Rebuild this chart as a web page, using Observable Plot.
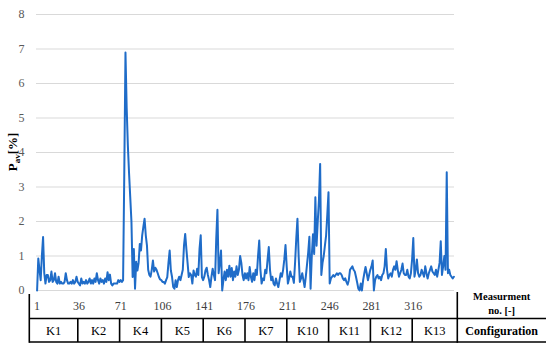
<!DOCTYPE html>
<html><head><meta charset="utf-8">
<script src="https://cdn.jsdelivr.net/npm/d3@7"></script>
<script src="https://cdn.jsdelivr.net/npm/@observablehq/plot@0.6"></script>
<style>html,body{margin:0;padding:0;background:#fff}</style>
</head><body><div id="chart"></div>
<script>
// ---- data ----
const configurations = ["K1","K2","K4","K5","K6","K7","K10","K11","K12","K13"];
const configStarts = [1,36,71,106,141,176,211,246,281,316];
const measurementTicks = [1,36,71,106,141,176,211,246,281,316];
const yTicks = [0,1,2,3,4,5,6,7,8];

const k1 = [0,0.93,0.6,0.3,1.0, 1.55,0.5,0.2,0.45,0.45, 0.25,0.3,0.55,0.25,0.3, 0.5,0.25,0.2,0.4,0.2, 0.25,0.2,0.2,0.25,0.5, 0.3,0.2,0.2,0.25,0.2, 0.3,0.2,0.25,0.4,0.25];
const k2 = [0.2,0.15,0.35,0.2,0.25, 0.2,0.3,0.2,0.25,0.35, 0.2,0.3,0.2,0.35,0.25, 0.5,0.3,0.2,0.35,0.25, 0.3,0.2,0.35,0.25,0.53, 0.3,0.46,0.2,0.15,0.2, 0.2,0.2,0.2,0.3,0.25];
const k4 = [0.3,0.25,0.3,3.4,6.9, 5.3,4.2,3.4,2.7,2.0, 0.39,1.2,0.05,0.83,0.58, 0.8,1.35,1.16,1.6,1.85, 2.08,1.6,1.3,0.6,0.45, 0.4,0.6,0.87,0.55,0.66, 0.6,0.5,0.39,0.32,0.3];
const k5 = [0.25,0.25,0.2,0.3,0.39, 0.8,1.16,0.58,0.39,0.1, 0.05,0.3,0.1,0.3,0.4, 0.3,0.45,0.6,1.3,1.64, 1.2,0.8,0.39,0.5,0.45, 0.2,0.58,0.45,0.4,0.63, 0.45,1.2,1.6,0.39,0.3];
const k6 = [0.4,0.58,0.66,0.45,0.3, 0.1,0.4,0.63,0.45,0.3, 1.5,2.34,0.5,0.8,1.16, 0.0,0.3,0.55,0.3,0.6, 0.4,0.72,0.4,0.65,0.3, 0.55,0.4,0.7,0.45,0.6, 1.0,0.8,0.45,0.3,0.5];
const k7 = [0.35,0.5,0.3,0.68,0.4, 0.25,0.5,0.3,0.6,0.45, 1.0,1.45,0.6,0.2,0.35, 0.3,0.6,0.5,0.9,1.26, 0.6,0.3,0.4,0.2,0.15, 0.35,0.2,0.1,0.3,0.5, 0.4,0.6,0.9,1.32,0.7];
const k10 = [0.2,0.35,0.55,0.4,0.4, 0.22,0.8,1.5,2.08,1.0, 0.25,0.35,0.5,0.3,0.1, 0.4,0.75,1.1,1.56,0.05, 1.0,1.63,1.06,2.7,1.3, 2.0,2.62,3.67,0.45,0.8, 1.0,1.3,1.6,2.2,2.85];
const k11 = [0.2,0.35,0.4,0.45,0.4, 0.45,0.5,0.45,0.5,0.5, 0.45,0.35,0.3,0.35,0.25, 0.17,0.3,0.6,0.65,0.7, 0.6,0.55,0.4,0.23,0.05, 0.0,0.2,0.0,0.3,0.5, 0.68,0.5,0.3,0.45,0.6];
const k12 = [0.7,0.87,0.0,0.3,0.4, 0.45,0.35,0.4,0.3,0.45, 0.5,0.7,1.2,0.6,0.35, 0.45,0.5,0.4,0.6,0.7, 0.6,0.85,0.6,0.4,0.5, 0.6,0.78,0.5,0.45,0.45, 0.6,0.4,0.35,0.5,0.9];
const k13 = [1.52,0.4,0.6,0.9,0.5, 0.4,0.45,0.6,0.5,0.4, 0.7,0.5,0.35,0.5,0.6, 0.7,0.55,0.5,0.45,0.6, 0.4,0.6,0.8,1.43,0.45, 0.7,1.0,0.6,3.43,0.5, 0.6,0.45,0.4,0.35,0.4];

const pav = [...k1,...k2,...k4,...k5,...k6,...k7,...k10,...k11,...k12,...k13];
const rows = pav.map((v,i)=>({m:i+1, v}));
const nMeas = pav.length;

const serif = "Liberation Serif, DejaVu Serif, Noto Serif, Times New Roman, serif";

const chart = Plot.plot({
  width:550, height:348,
  marginLeft:36, marginRight:96, marginTop:14, marginBottom:58,
  style:{fontFamily:serif, fontSize:"12px", background:"#fff", overflow:"visible"},
  x:{domain:[0.5, nMeas+0.5]},
  y:{domain:[0,8]},
  marks:[
    Plot.gridY(yTicks,{stroke:"#d9d9d9", strokeOpacity:1, strokeWidth:1}),
    Plot.axisY(yTicks,{tickSize:0, tickPadding:12, label:null, fill:"#595959", fontSize:12, fontFamily:serif}),
    Plot.axisX(measurementTicks,{tickSize:0, tickPadding:11, label:null, fill:"#404040", fontSize:12, fontFamily:serif, tickFormat:d=>String(d)}),
    Plot.line(rows,{x:"m", y:"v", stroke:"#1f6cc8", strokeWidth:2, strokeLinejoin:"round"})
  ]
});
document.getElementById("chart").appendChild(chart);

// ---- table under the axis, positioned from the x scale ----
const svg = d3.select(chart);
const xs = chart.scale("x");
const X = v => xs.apply(v);
const tableLeft = xs.range[0] - 6.7;
const tableRight = X(nMeas + 0.5) + 3.3;
const outerRight = 546;
const rowTop = 318.5, rowBottom = 342;
const g = svg.append("g").attr("stroke","#000").attr("stroke-width",1.6).attr("fill","none");
g.append("line").attr("x1",tableLeft).attr("x2",tableLeft).attr("y1",294).attr("y2",rowBottom+0.8);
g.append("line").attr("x1",tableRight).attr("x2",tableRight).attr("y1",292).attr("y2",rowBottom+0.8);
g.append("line").attr("x1",tableLeft).attr("x2",outerRight).attr("y1",rowTop).attr("y2",rowTop);
g.append("line").attr("x1",tableLeft).attr("x2",outerRight).attr("y1",rowBottom).attr("y2",rowBottom);
const bounds = configStarts.map((s,i)=> i===0 ? tableLeft : X(s-0.5)).concat([tableRight]);
configStarts.slice(1).forEach(s=>{
  g.append("line").attr("x1",X(s-0.5)).attr("x2",X(s-0.5)).attr("y1",rowTop).attr("y2",rowBottom);
});
const tg = svg.append("g").style("font-family",serif).attr("fill","#000").attr("text-anchor","middle");
configurations.forEach((c,i)=>{
  tg.append("text").attr("x",(bounds[i]+bounds[i+1])/2).attr("y",331).attr("dy","0.35em")
    .attr("font-size",12.5).text(c);
});
const labelX = (tableRight + outerRight)/2;
tg.append("text").attr("x",labelX).attr("y",296).attr("dy","0.35em").attr("font-size",10.5).attr("font-weight","bold").text("Measurment");
tg.append("text").attr("x",labelX).attr("y",310).attr("dy","0.35em").attr("font-size",10.5).attr("font-weight","bold").text("no. [-]");
tg.append("text").attr("x",labelX).attr("y",331).attr("dy","0.35em").attr("font-size",12).attr("font-weight","bold").text("Configuration");

// ---- y label with subscript ----
const ys = chart.scale("y");
const ymid = (ys.range[0] + ys.range[1]) / 2;
const yl = svg.append("text").style("font-family",serif).attr("font-weight","bold").attr("font-size",13)
  .attr("fill","#000").attr("text-anchor","middle")
  .attr("transform",`translate(16.5,${ymid}) rotate(-90)`);
yl.append("tspan").text("P");
yl.append("tspan").attr("font-size",9).attr("dy",3).text("av");
yl.append("tspan").attr("dy",-3).text("[%]");
</script>
</body></html>
